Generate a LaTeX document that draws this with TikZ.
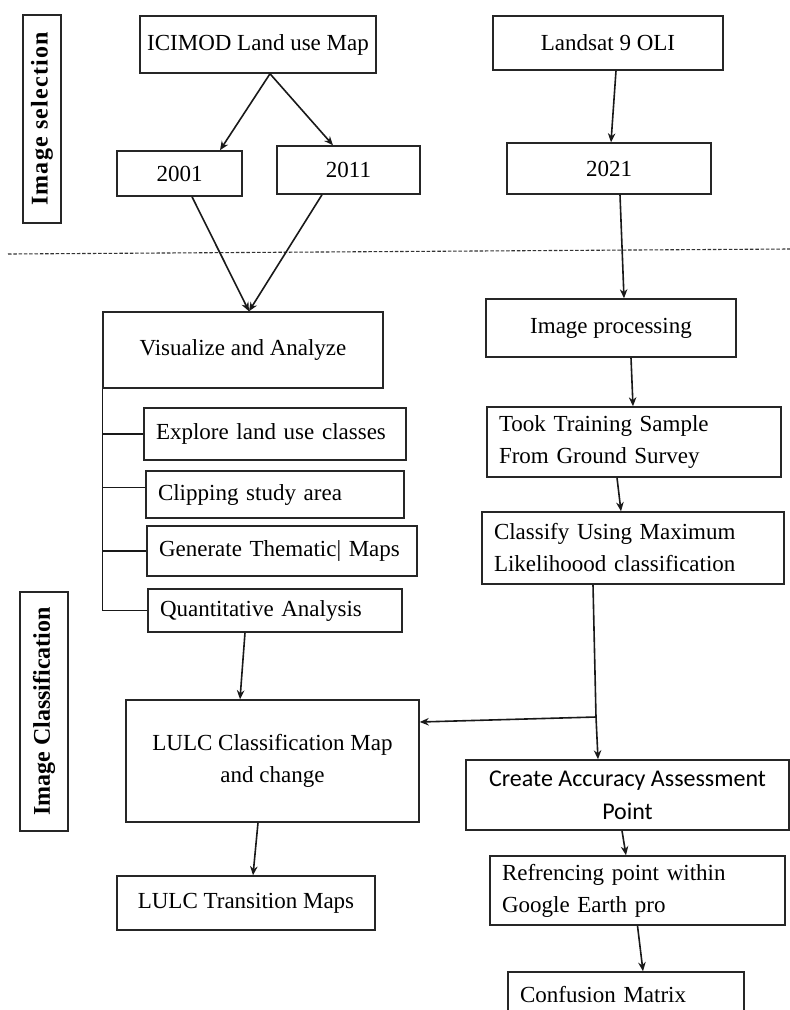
\documentclass[tikz,border=0pt]{standalone}
\usepackage{fontspec}
\setmainfont{Liberation Serif}
\newfontfamily\calib{Carlito}
\usetikzlibrary{arrows.meta,calc}
\tikzset{
  box/.style={draw=black!85, line width=1.5pt, inner sep=0pt, font=\fontsize{23}{32}\selectfont, align=center},
  lbox/.style={box, align=left, inner xsep=12pt},
  sansbox/.style={box, font=\calib\fontsize{24}{33}\selectfont},
  side/.style={draw=black!85, line width=1.5pt, inner sep=0pt, rotate=90, font=\fontsize{24}{28}\selectfont\bfseries},
  arr/.style={draw=black!90, line width=1.6pt, -{Stealth[length=9pt,width=7.5pt]}},
  ln/.style={draw=black!90, line width=1.5pt},
  sep/.style={draw=black!80, line width=1.1pt, dash pattern=on 3.5pt off 1.8pt},
}
\newcommand\bx[7][box]{%
  \node[#1, minimum width={#5-#3}, minimum height={#6-#4}] (#2) at ({(#3+#5)/2},{(#4+#6)/2}) {#7};}
\newcommand\lbx[7][lbox]{%
  \node[#1, minimum width={#5-#3}, minimum height={#6-#4}, text width={#5-#3-24}] (#2) at ({(#3+#5)/2},{(#4+#6)/2}) {#7};}
\begin{document}
\begin{tikzpicture}[x=1pt,y=-1pt]
\clip (0,0) rectangle (790,1010);
\fill[white] (0,0) rectangle (790,1010);
% side labels
\node[side, minimum width=208, minimum height=38] (sel) at (42,119) {\addfontfeatures{LetterSpace=5}Image selection};
\node[side, minimum width=239, minimum height=48] (cls) at (44,711.5) {Image Classification};
% dashed separator
\coordinate (dl) at (8,254);
\coordinate (dr) at (790,249);
\draw[sep] (dl) -- (dr);
% top row
\bx{icimod}{140}{16}{376}{73}{ICIMOD Land use Map}
\bx{y2001}{117}{151}{242}{196}{2001}
\bx{y2011}{277}{146}{420}{194}{2011}
\bx{landsat}{493}{16}{723}{70}{Landsat 9 OLI}
\bx{y2021}{507}{143}{711}{194}{2021}
% left column
\bx{vis}{103}{312}{383}{388}{Visualize and Analyze}
\lbx{explore}{144}{408}{406}{460}{Explore land use classes}
\lbx{clip}{146}{471}{404}{518}{Clipping study area}
\lbx{gen}{147}{526}{417}{576}{Generate Thematic| Maps}
\lbx{quant}{148}{589}{402}{632}{Quantitative Analysis}
\bx{lulc}{126}{700}{419}{822}{LULC Classification Map\\and change}
\bx{trans}{117}{876}{375}{930}{LULC Transition Maps}
% right column
\bx{improc}{486}{299}{736}{357}{Image processing}
\lbx{took}{487}{407}{781}{477}{Took Training Sample\\From Ground Survey}
\lbx{classify}{482}{512}{784}{584}{Classify Using Maximum\\Likelihoood classification}
\bx[sansbox]{create}{466}{760}{789}{830}{Create Accuracy Assessment\\Point}
\lbx{refr}{490}{856}{785}{925}{Refrencing point within\\Google Earth pro}
\lbx{conf}{508}{972}{744}{1018}{Confusion Matrix}
% connectors
\draw[arr] ([xshift=12pt]icimod.south) -- ([xshift=40.5pt]y2001.north);
\draw[arr] ([xshift=12pt]icimod.south) -- ([xshift=-15.5pt]y2011.north);
\draw[arr] ([xshift=8pt]landsat.south) -- ([xshift=2pt]y2021.north);
\draw[arr] ([xshift=11pt]y2021.south) -- ([xshift=13pt]improc.north);
\draw[arr] ([xshift=12.5pt]y2001.south) -- ([xshift=6pt]vis.north);
\draw[arr] ([xshift=-26.5pt]y2011.south) -- ([xshift=6pt]vis.north);
% bracket
\draw[ln] (vis.south west) |- (quant.west);
\draw[ln] (explore.west -| vis.south west) -- (explore.west);
\draw[ln] ([yshift=7pt]clip.west -| vis.south west) -- ([yshift=7pt]clip.west);
\draw[ln] (gen.west -| vis.south west) -- (gen.west);
\draw[arr] ([xshift=-30pt]quant.south) -- ([xshift=-32.5pt]lulc.north);
\draw[arr] ([xshift=-14.5pt]lulc.south) -- ([xshift=7pt]trans.north);
\draw[arr] ([xshift=20pt]improc.south) -- ([xshift=-1pt]took.north);
\draw[arr] ([xshift=-17pt]took.south) -- ([xshift=-12pt]classify.north);
\coordinate (br) at (596,717);
\draw[arr] ([xshift=-40pt]classify.south) -- (br) -- ([xshift=-29.5pt]create.north);
\draw[arr] (br) -- ([yshift=39pt]lulc.east);
\draw[arr] ([xshift=-5.5pt]create.south) -- ([xshift=-11.5pt]refr.north);
\draw[arr] (refr.south) -- ([xshift=17pt]conf.north);
\end{tikzpicture}
\end{document}
